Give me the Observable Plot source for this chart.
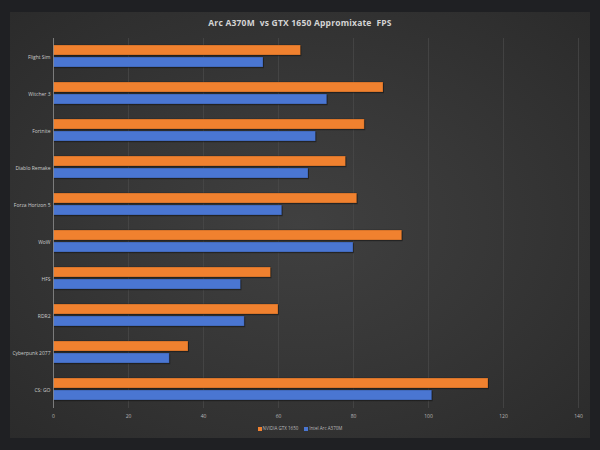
<!DOCTYPE html>
<html>
<head>
<meta charset="utf-8">
<script src="https://cdn.jsdelivr.net/npm/d3@7"></script>
<script src="https://cdn.jsdelivr.net/npm/@observablehq/plot@0.6"></script>
<style>
  html, body { margin: 0; padding: 0; background: #1f2023; width: 600px; height: 450px; overflow: hidden; }
  #panel { position: absolute; left: 10px; top: 12px; width: 580px; height: 426px;
    background: radial-gradient(ellipse at 50% 50%, #404040 0%, #373737 45%, #2b2b2b 100%); }
  #title { position: absolute; left: 0; top: 5px; width: 580px; text-align: center;
    font-family: "Open Sans", "DejaVu Sans", sans-serif; font-weight: bold; font-size: 8.5px; color: #d4d4d4; letter-spacing: 0.2px; }
  #chart { position: absolute; left: 0; top: 18px; }
  #legend { position: absolute; left: 0; top: 413px; width: 580px; text-align: center;
    font-family: "Open Sans", "DejaVu Sans", sans-serif; font-size: 4.5px; color: #bbbbbb; }
  #legend span.sw { display: inline-block; width: 4px; height: 4px; margin-right: 1px; vertical-align: -0.5px; }
  #legend span.item { margin: 0 3px; }
</style>
</head>
<body>
<div id="panel">
  <div id="title">Arc A370M&nbsp; vs GTX 1650 Appromixate&nbsp; FPS</div>
  <div id="chart"></div>
  <div id="legend"></div>
</div>
<script>
const games = ["Flight Sim", "Witcher 3", "Fortnite", "Diablo Remake", "Forza Horizon 5", "WoW", "HFS", "RDR2", "Cyberpunk 2077", "CS: GO"];
const gtx1650 = [66, 88, 83, 78, 81, 93, 58, 60, 36, 116];
const arcA370M = [56, 73, 70, 68, 61, 80, 50, 51, 31, 101];
const seriesNames = ["NVIDIA GTX 1650", "Intel Arc A370M"];
const seriesColors = ["#f0812f", "#4a76d2"];
const xTicks = [0, 20, 40, 60, 80, 100, 120, 140];

const data = [];
games.forEach((g, i) => {
  data.push({game: g, gpu: seriesNames[0], fps: gtx1650[i]});
  data.push({game: g, gpu: seriesNames[1], fps: arcA370M[i]});
});

const chart = Plot.plot({
  width: 580,
  height: 400,
  marginLeft: 43,
  marginRight: 12,
  marginTop: 5,
  marginBottom: 19,
  style: {background: "transparent", fontFamily: "'Open Sans', 'DejaVu Sans', sans-serif", fontSize: "5px", color: "#b8b8b8"},
  x: {domain: [0, 140], ticks: xTicks, label: null, tickSize: 0, tickPadding: 6},
  fy: {domain: games, padding: 0, label: null, axis: null},
  y: {domain: seriesNames, paddingInner: 0.14, paddingOuter: 0.5, axis: null},
  color: {domain: seriesNames, range: seriesColors},
  marks: [
    Plot.gridX(xTicks, {stroke: "#4a4a4a", strokeOpacity: 1, strokeWidth: 0.7}),
    Plot.barX(data, {x: "fps", y: "gpu", fy: "game", fill: "#1a1a1a", fillOpacity: 0.55, dx: 1, dy: 1.2}),
    Plot.barX(data, {x: "fps", y: "gpu", fy: "game", fill: "gpu", stroke: "#00000040", strokeWidth: 0.8}),
    Plot.ruleX([0], {stroke: "#8a8a8a", strokeWidth: 0.8}),
    Plot.text(games, {fy: d => d, frameAnchor: "left", text: d => d, dx: -3, textAnchor: "end", fill: "#cccccc", fontSize: 5})
  ]
});
chart.style.overflow = "visible";
document.getElementById("chart").appendChild(chart);

const legend = document.getElementById("legend");
seriesNames.forEach((n, i) => {
  const item = document.createElement("span");
  item.className = "item";
  const sw = document.createElement("span");
  sw.className = "sw";
  sw.style.background = seriesColors[i];
  item.appendChild(sw);
  item.appendChild(document.createTextNode(n));
  legend.appendChild(item);
});
</script>
</body>
</html>
